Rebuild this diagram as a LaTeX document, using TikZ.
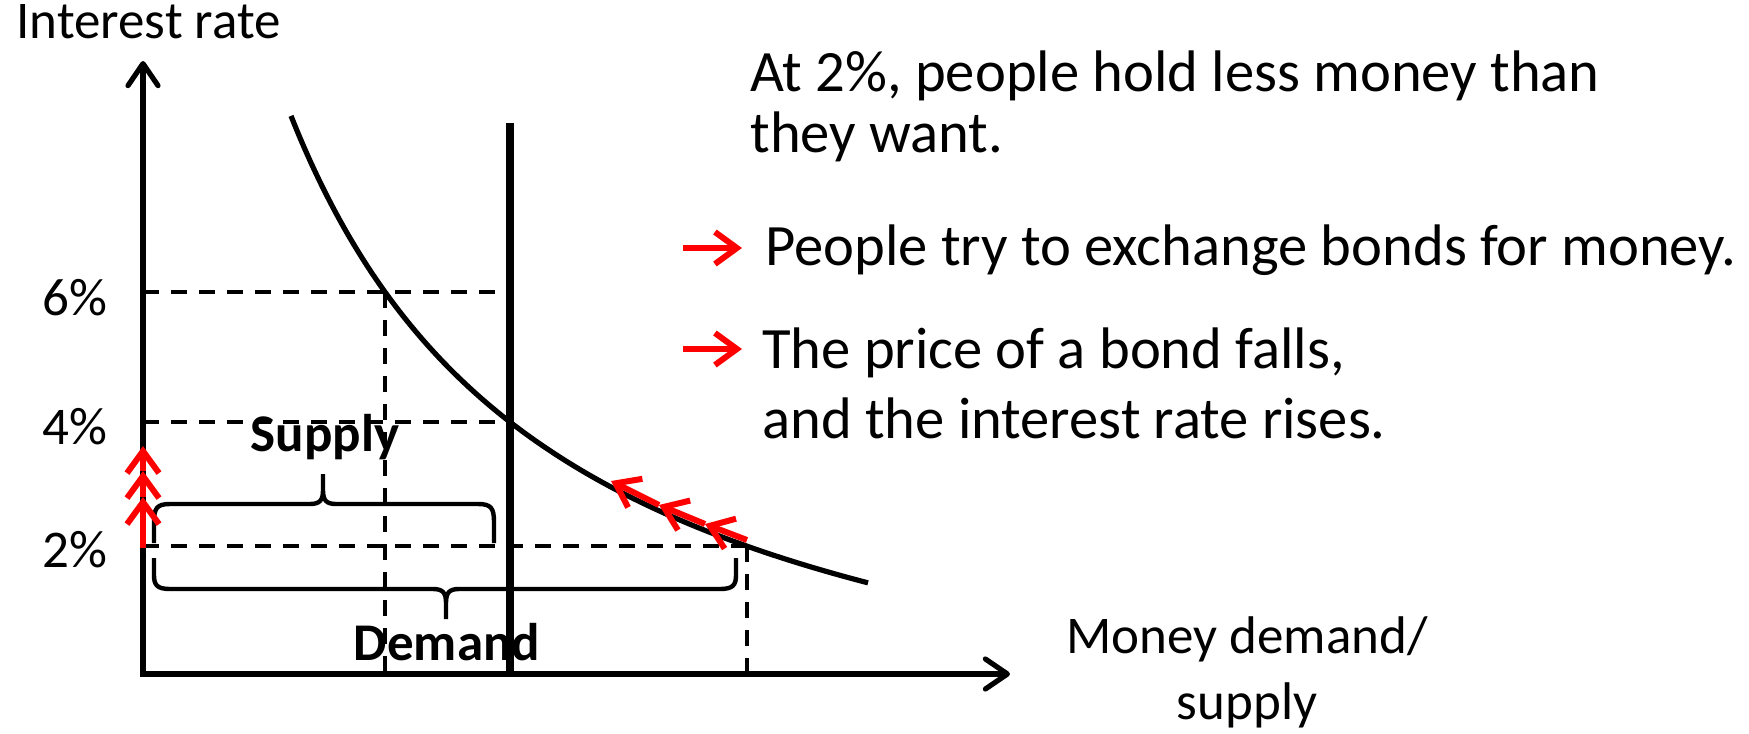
\documentclass[tikz,border=0pt]{standalone}
\usepackage{fontspec}
\setmainfont{Carlito}
\usetikzlibrary{arrows.meta}
\begin{document}
\begin{tikzpicture}[x=0.5pt,y=-0.5pt,
  axis/.style={line width=2.6pt, line join=miter, {Straight Barb[length=11pt,width=15pt,round]}-{Straight Barb[length=11pt,width=15pt,round]}},
  dashln/.style={line width=1.8pt, dash pattern=on 8pt off 6pt},
  brc/.style={line width=2.2pt},
  redarr/.style={red, line width=3pt, -{Straight Barb[length=11pt,width=16pt]}},
  lbl/.style={font=\fontsize{26.5}{32}\selectfont, inner sep=0pt},
  lblb/.style={font=\fontsize{26.5}{32}\selectfont\bfseries, inner sep=0pt},
  bigtxt/.style={font=\fontsize{29.3}{35}\selectfont, inner sep=0pt}
]
\useasboundingbox (0,0) rectangle (1749,733);
% key points
\coordinate (O) at (143,674);
\coordinate (Ytip) at (143,61);
\coordinate (Xtip) at (1010,674);
\coordinate (P6) at (385,292);
\coordinate (P4) at (510,422);
\coordinate (P2) at (747,546);
\coordinate (L6) at (143,292);
\coordinate (L4) at (143,422);
\coordinate (L2) at (143,546);
\coordinate (B6) at (385,674);
\coordinate (B2) at (747,674);
\coordinate (Mtop) at (510,123);
\coordinate (Mbot) at (510,674);
% dashed guides
\draw[dashln] (L6) -- (P4 |- L6);
\draw[dashln] (P6) -- (B6);
\draw[dashln] (L4) -- (P4);
\draw[dashln] (L2) -- (P2);
\draw[dashln] (P2) -- (B2);
% demand curve
\draw[line width=2.6pt] plot[domain=291:868, samples=80, smooth] (\x, {674 - (1880.58/((\x-17.7)/100) - 130)});
% money supply
\draw[line width=4pt] (Mtop) -- (Mbot);
% axes
\draw[axis] (Ytip) -- (O) -- (Xtip);
% braces
\draw[brc] (154,543) -- (154,522) .. controls (154,508) and (157,504) .. (170,504) -- (310,504) .. controls (320,504) and (323,500) .. (323,490) -- (323,474)
  (323,490) .. controls (323,500) and (326,504) .. (336,504) -- (478,504) .. controls (491,504) and (494,508) .. (494,522) -- (494,543);
\draw[brc] (154,558) -- (154,575) .. controls (154,585) and (157,589) .. (170,589) -- (433,589) .. controls (443,589) and (446,593) .. (446,603) -- (446,619)
  (446,603) .. controls (446,593) and (449,589) .. (459,589) -- (720,589) .. controls (733,589) and (736,585) .. (736,575) -- (736,558);
% red arrows on y axis
\coordinate (Y0) at (143,548);
\coordinate (Y1) at (143,497);
\coordinate (Y2) at (143,471);
\coordinate (Y3) at (143,446);
\draw[redarr] (Y0) -- (Y1);
\draw[redarr] (Y1) -- (Y2);
\draw[redarr] (Y2) -- (Y3);
% red arrows along curve
\coordinate (R0) at (747,540);
\coordinate (R1) at (705,524);
\coordinate (R2) at (659,505);
\coordinate (R3) at (611,481);
\draw[redarr] (R0) -- (R1);
\draw[redarr] (R1) -- (R2);
\draw[redarr] (R2) -- (R3);
% text arrows
\coordinate (A1s) at (683,248);
\coordinate (A1e) at (742,248);
\coordinate (A2s) at (683,349);
\coordinate (A2e) at (742,349);
\draw[redarr] (A1s) -- (A1e);
\draw[redarr] (A2s) -- (A2e);
% labels
\node[lbl, anchor=base west] (ylab) at (16,39) {Interest rate};
\node[lbl, anchor=base east] (t6) at (108,315) {6\%};
\node[lbl, anchor=base east] (t4) at (108,444) {4\%};
\node[lbl, anchor=base east] (t2) at (108,567) {2\%};
\node[lblb, anchor=base] (sup) at (325,451) {Supply};
\node[lblb, anchor=base] (dem) at (447,660) {Demand};
\node[lbl, anchor=base] (xl1) at (1247,653) {Money demand/};
\node[lbl, anchor=base] (xl2) at (1247,719) {supply};
\node[bigtxt, anchor=base west] (r1) at (750,91) {At 2\%, people hold less money than};
\node[bigtxt, anchor=base west] (r2) at (750,152) {they want.};
\node[bigtxt, anchor=base west] (r3) at (765,265) {People try to exchange bonds for money.};
\node[bigtxt, anchor=base west] (r4) at (762,368) {The price of a bond falls,};
\node[bigtxt, anchor=base west] (r5) at (762,438) {and the interest rate rises.};
\end{tikzpicture}
\end{document}
